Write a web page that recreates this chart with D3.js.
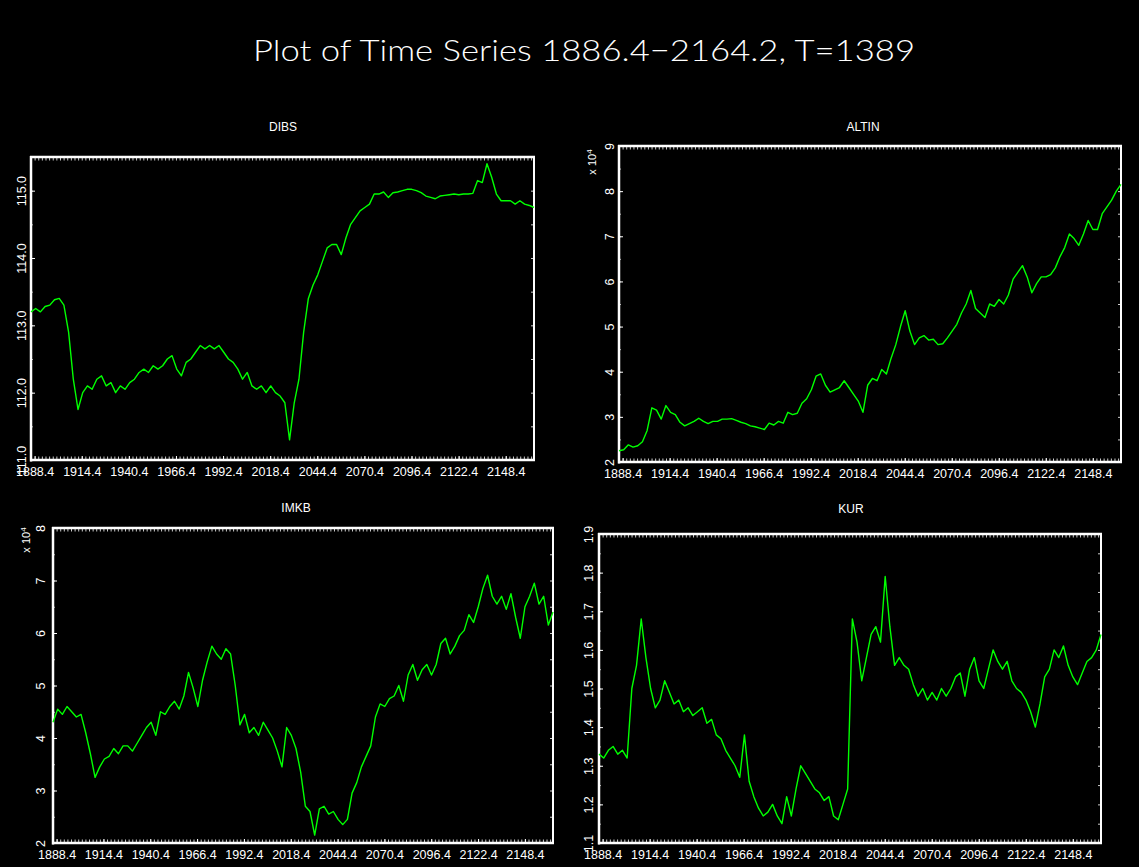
<!DOCTYPE html>
<html>
<head>
<meta charset="utf-8">
<script src="https://cdn.jsdelivr.net/npm/d3@7"></script>
<style>
  html, body { margin: 0; padding: 0; background: #000; }
  svg { display: block; }
</style>
</head>
<body>
<script>
// ---------------- DATA ----------------
const mainTitle = "Plot of Time Series 1886.4\u22122164.2, T=1389";
const seriesNames = ["DIBS", "ALTIN", "IMKB", "KUR"];
const T = 1389;              // number of observations
const startYear = 1886, startSub = 4, freq = 5;
const xTickLabels = ["1888.4","1914.4","1940.4","1966.4","1992.4","2018.4","2044.4","2070.4","2096.4","2122.4","2148.4"];

const dibsValues = [113.2,113.25,113.2,113.28,113.3,113.38,113.4,113.3,112.9,112.2,
  111.75,112.0,112.1,112.05,112.2,112.25,112.1,112.15,112.0,112.1,
  112.05,112.15,112.2,112.3,112.35,112.3,112.4,112.35,112.4,112.5,
  112.55,112.35,112.25,112.45,112.5,112.6,112.7,112.65,112.7,112.65,
  112.7,112.6,112.5,112.45,112.35,112.2,112.3,112.1,112.05,112.1,
  112.0,112.1,112.0,111.95,111.85,111.3,111.85,112.2,112.9,113.4,
  113.6,113.75,113.95,114.15,114.2,114.2,114.05,114.3,114.5,114.6,
  114.7,114.75,114.8,114.95,114.95,114.98,114.9,114.97,114.98,115.0,
  115.02,115.02,115.0,114.97,114.92,114.9,114.88,114.92,114.93,114.94,
  114.95,114.94,114.95,114.95,114.96,115.15,115.12,115.4,115.2,114.95,
  114.85,114.85,114.85,114.8,114.85,114.8,114.78,114.75];
const altinValues = [2.25,2.27,2.38,2.33,2.36,2.45,2.7,3.2,3.15,2.95,
  3.25,3.1,3.05,2.88,2.8,2.85,2.9,2.97,2.9,2.85,
  2.9,2.9,2.95,2.95,2.96,2.92,2.88,2.85,2.8,2.78,
  2.75,2.72,2.86,2.82,2.9,2.86,3.1,3.05,3.08,3.3,
  3.4,3.6,3.9,3.95,3.7,3.55,3.6,3.65,3.8,3.65,
  3.5,3.35,3.1,3.7,3.85,3.8,4.05,3.95,4.3,4.6,
  5.0,5.35,4.9,4.6,4.75,4.8,4.7,4.72,4.6,4.62,
  4.75,4.9,5.05,5.3,5.5,5.8,5.4,5.3,5.2,5.5,
  5.45,5.6,5.5,5.7,6.05,6.2,6.35,6.1,5.75,5.95,
  6.1,6.1,6.15,6.3,6.55,6.75,7.05,6.95,6.8,7.05,
  7.35,7.15,7.15,7.5,7.65,7.8,8.0,8.15];
const imkbValues = [4.3,4.55,4.45,4.6,4.5,4.4,4.45,4.1,3.7,3.25,
  3.45,3.6,3.65,3.8,3.7,3.85,3.85,3.75,3.9,4.05,
  4.2,4.3,4.05,4.5,4.45,4.6,4.7,4.55,4.8,5.25,
  4.95,4.6,5.1,5.45,5.75,5.6,5.5,5.7,5.6,5.0,
  4.25,4.45,4.1,4.2,4.05,4.3,4.15,4.0,3.75,3.45,
  4.2,4.05,3.8,3.35,2.7,2.6,2.15,2.65,2.7,2.55,
  2.6,2.45,2.35,2.45,2.95,3.15,3.45,3.65,3.85,4.4,
  4.65,4.6,4.75,4.8,5.0,4.7,5.2,5.4,5.1,5.3,
  5.4,5.2,5.4,5.8,5.9,5.6,5.75,5.95,6.05,6.35,
  6.2,6.5,6.85,7.1,6.7,6.55,6.7,6.45,6.75,6.3,
  5.9,6.5,6.7,6.95,6.55,6.7,6.15,6.4];
const kurValues = [1.33,1.32,1.34,1.35,1.33,1.34,1.32,1.5,1.56,1.68,
  1.58,1.5,1.45,1.47,1.52,1.49,1.46,1.47,1.44,1.45,
  1.43,1.44,1.45,1.41,1.42,1.38,1.37,1.34,1.32,1.3,
  1.27,1.38,1.26,1.22,1.19,1.17,1.18,1.2,1.17,1.15,
  1.22,1.17,1.24,1.3,1.28,1.26,1.24,1.23,1.21,1.22,
  1.17,1.16,1.2,1.24,1.68,1.62,1.52,1.58,1.64,1.66,
  1.62,1.79,1.66,1.56,1.58,1.56,1.55,1.51,1.48,1.5,
  1.47,1.49,1.47,1.5,1.48,1.5,1.53,1.54,1.48,1.55,
  1.58,1.52,1.5,1.55,1.6,1.57,1.55,1.57,1.52,1.5,
  1.49,1.47,1.44,1.4,1.46,1.53,1.55,1.6,1.58,1.61,
  1.56,1.53,1.51,1.54,1.57,1.58,1.6,1.64];

const dibsTicks  = [111, 112, 113, 114, 115];
const altinTicks = [2, 3, 4, 5, 6, 7, 8, 9];
const imkbTicks  = [2, 3, 4, 5, 6, 7, 8];
const kurTicks   = [1.1, 1.2, 1.3, 1.4, 1.5, 1.6, 1.7, 1.8, 1.9];

// ---------------- LAYOUT ----------------
const panels = [
  {name: seriesNames[0], values: dibsValues,  ticks: dibsTicks,  domain: [111, 115.5], minorStep: 0.5,
   fmt: d3.format(".1f"), left: 31,  right: 534,  top: 157, bottom: 460, labelOff: 10, titleX: 283, titleY: 131, expo: false},
  {name: seriesNames[1], values: altinValues, ticks: altinTicks, domain: [2, 9], minorStep: 0.5,
   fmt: d3.format("d"),   left: 619, right: 1121, top: 146, bottom: 462, labelOff: 10, titleX: 863, titleY: 131, expo: true},
  {name: seriesNames[2], values: imkbValues,  ticks: imkbTicks,  domain: [2, 8], minorStep: 0.5,
   fmt: d3.format("d"),   left: 53,  right: 553,  top: 528, bottom: 843, labelOff: 13, titleX: 296, titleY: 512, expo: true},
  {name: seriesNames[3], values: kurValues,   ticks: kurTicks,   domain: [1.1, 1.9], minorStep: 0.05,
   fmt: d3.format(".1f"), left: 599, right: 1101, top: 534, bottom: 843, labelOff: 11, titleX: 851, titleY: 513, expo: false}
];

const W = 1139, H = 867;
const FONT = "'Liberation Sans', Arial, Helvetica, sans-serif";

const svg = d3.select("body").append("svg").attr("width", W).attr("height", H);
svg.append("rect").attr("width", W).attr("height", H).attr("fill", "#000");

svg.append("text")
  .attr("x", 584).attr("y", 61)
  .attr("text-anchor", "middle")
  .attr("fill", "#fff")
  .attr("textLength", 662).attr("lengthAdjust", "spacingAndGlyphs")
  .style("font-family", "Lato, 'DejaVu Sans', sans-serif")
  .style("font-weight", 300)
  .style("font-size", "30px")
  .text(mainTitle);

function periodIndex(label) {
  const [yy, ss] = label.split(".").map(Number);
  return (yy - startYear) * freq + (ss - startSub);
}
const majorIdx = xTickLabels.map(periodIndex);
const minorIdx = d3.range(0, T, 10);

panels.forEach(p => {
  const w = p.right - p.left, h = p.bottom - p.top;
  const g = svg.append("g").attr("transform", `translate(${p.left},${p.top})`);
  const x = d3.scaleLinear().domain([0, T - 1]).range([0, w]);
  const y = d3.scaleLinear().domain(p.domain).range([h, 0]);
  const n = p.values.length;
  const pts = p.values.map((v, i) => ({i: i * (T - 1) / (n - 1), v}));

  const styleTicks = (sel, color, width) => {
    sel.select(".domain").remove();
    sel.selectAll("line").attr("stroke", color).attr("stroke-width", width);
    sel.selectAll("text").remove();
  };
  // minor ticks top & bottom
  g.append("g").attr("transform", `translate(0,${h})`)
    .call(d3.axisBottom(x).tickValues(minorIdx).tickSize(-3.5).tickFormat(""))
    .call(s => styleTicks(s, "#ccc", 1));
  g.append("g")
    .call(d3.axisTop(x).tickValues(minorIdx).tickSize(-3.5).tickFormat(""))
    .call(s => styleTicks(s, "#ccc", 1));

  // major x ticks with labels
  const xa = g.append("g").attr("transform", `translate(0,${h})`)
    .call(d3.axisBottom(x).tickValues(majorIdx).tickSize(-4).tickPadding(7)
      .tickFormat((d, i) => xTickLabels[i]));
  xa.select(".domain").remove();
  xa.selectAll("line").attr("stroke", "#fff").attr("stroke-width", 1);
  xa.selectAll("text").attr("fill", "#fff").style("font-family", FONT).style("font-size", "12.5px");

  // y ticks (minor)
  const minorY = d3.range(p.domain[0], p.domain[1] + 1e-9, p.minorStep);
  g.append("g")
    .call(d3.axisLeft(y).tickValues(minorY).tickSize(-2).tickFormat(""))
    .call(s => styleTicks(s, "#aaa", 1));
  g.append("g").attr("transform", `translate(${w},0)`)
    .call(d3.axisRight(y).tickValues(minorY).tickSize(-3).tickFormat(""))
    .call(s => styleTicks(s, "#ccc", 1));

  // y major ticks with rotated labels
  const ya = g.append("g").call(d3.axisLeft(y).tickValues(p.ticks).tickSize(-4).tickFormat(p.fmt));
  ya.select(".domain").remove();
  ya.selectAll("line").attr("stroke", "#fff").attr("stroke-width", 1);
  ya.selectAll("text")
    .attr("x", 0).attr("dy", "0.36em")
    .attr("text-anchor", "middle")
    .attr("transform", `translate(${-p.labelOff},0) rotate(-90)`)
    .attr("fill", "#fff")
    .style("font-family", FONT).style("font-size", "12.5px");

  // frame
  const frame = g.append("g").attr("stroke", "#fff").attr("fill", "none");
  frame.append("line").attr("x1", 0).attr("x2", 0).attr("y1", -1).attr("y2", h + 1.5).attr("stroke-width", 2.5);
  frame.append("line").attr("x1", -1).attr("x2", w + 1).attr("y1", h).attr("y2", h).attr("stroke-width", 2.5);
  frame.append("line").attr("x1", -1).attr("x2", w + 1).attr("y1", 0).attr("y2", 0).attr("stroke-width", 2.5);
  frame.append("line").attr("x1", w).attr("x2", w).attr("y1", -1).attr("y2", h + 1).attr("stroke-width", 2);

  // series line
  g.append("path").datum(pts)
    .attr("fill", "none")
    .attr("stroke", "#00ff00")
    .attr("stroke-width", 1.4)
    .attr("stroke-linejoin", "round")
    .attr("d", d3.line().x(d => x(d.i)).y(d => y(d.v)));

  // exponent label
  if (p.expo) {
    const t = g.append("text")
      .attr("transform", `translate(-27,${p.name === "ALTIN" ? 16 : 12}) rotate(-90)`)
      .attr("text-anchor", "middle")
      .attr("dy", "0.35em")
      .attr("fill", "#fff")
      .style("font-family", FONT).style("font-size", "11px");
    t.append("tspan").text("x 10");
    t.append("tspan").attr("dy", "-0.45em").style("font-size", "8px").text("4");
  }

  // panel title
  svg.append("text")
    .attr("x", p.titleX).attr("y", p.titleY)
    .attr("text-anchor", "middle")
    .attr("fill", "#fff")
    .style("font-family", FONT).style("font-size", "12px")
    .text(p.name);
});
</script>
</body>
</html>
